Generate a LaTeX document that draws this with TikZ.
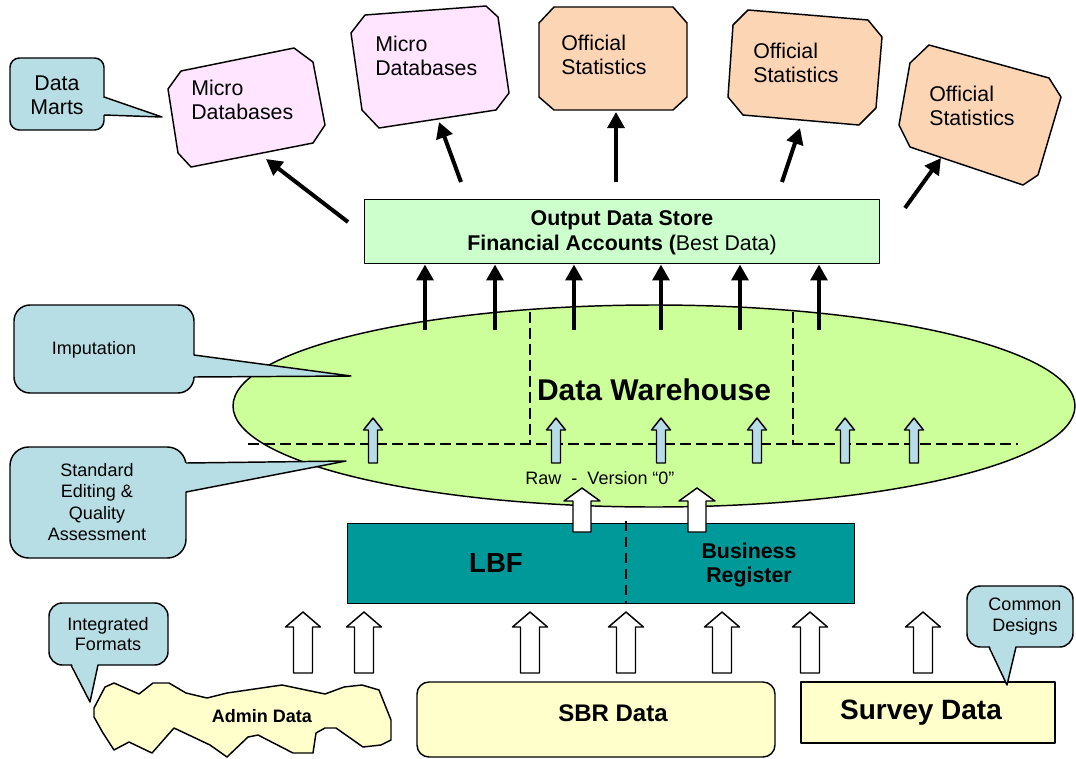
\documentclass[tikz,border=0pt]{standalone}
\usepackage{fontspec}
\setmainfont{Liberation Sans}
\usetikzlibrary{arrows.meta,shapes.geometric}
\definecolor{callb}{RGB}{183,222,228}
\definecolor{pinkb}{RGB}{255,229,255}
\definecolor{peach}{RGB}{252,213,181}
\definecolor{odsg}{RGB}{204,255,204}
\definecolor{dwg}{RGB}{204,255,153}
\definecolor{tealb}{RGB}{0,153,153}
\definecolor{lyel}{RGB}{255,255,204}
\definecolor{arrb}{RGB}{183,222,232}
% #1 style, #2 x, #3 tip y, #4 bottom y, #5 half shaft, #6 half head, #7 head height
\newcommand{\UpArr}[7]{\draw[#1] (#2-#5,#4) -- (#2-#5,#3+#7) -- (#2-#6,#3+#7) -- (#2,#3) -- (#2+#6,#3+#7) -- (#2+#5,#3+#7) -- (#2+#5,#4) -- cycle;}
\begin{document}
\begin{tikzpicture}[x=0.75pt,y=-0.75pt,line join=round,
  outl/.style={draw=black,line width=1.1pt},
  blk/.style={line width=3pt,-{Triangle[length=12pt,width=12.5pt]}},
  dsh/.style={line width=1.5pt,dash pattern=on 8pt off 4pt},
  txt/.style={inner sep=0pt,align=center},
  ltxt/.style={inner sep=0pt,align=left,anchor=west},
  fbig/.style={font=\fontsize{16pt}{18pt}\selectfont},
  fsmall/.style={font=\fontsize{13.5pt}{16pt}\selectfont},
  blockw/.style={outl,fill=white},
  blockb/.style={outl,fill=arrb}]
\useasboundingbox (0,0) rectangle (1076,758);

% ---------- top data marts ----------
\draw[outl,fill=pinkb] (168,89) -- (181,71) -- (294,48) -- (313,62) -- (325,125) -- (313,143) -- (191,167) -- (178,153) -- cycle;
\node[ltxt,fbig] (md1) at (191,100) {Micro\\Databases};
\draw[outl,fill=pinkb] (351,33) -- (365,15) -- (486,6) -- (498,17) -- (509,93) -- (496,110) -- (379,128) -- (362,110) -- cycle;
\node[ltxt,fbig] (md2) at (375,56) {Micro\\Databases};
\draw[outl,fill=peach] (539,23) -- (554,7) -- (673,7) -- (687,23) -- (687,97) -- (673,110) -- (554,110) -- (539,97) -- cycle;
\node[ltxt,fbig] (os1) at (561,55) {Official\\Statistics};
\draw[outl,fill=peach] (733,25) -- (748,10) -- (868,20) -- (882,37) -- (876,108) -- (859,125) -- (743,115) -- (728,97) -- cycle;
\node[ltxt,fbig] (os2) at (753,63) {Official\\Statistics};
\draw[outl,fill=peach] (910,63) -- (929,45) -- (1049,78) -- (1061,97) -- (1038,175) -- (1023,185) -- (910,147) -- (899,125) -- cycle;
\node[ltxt,fbig] (os3) at (929,106) {Official\\Statistics};

% Data Marts callout
\draw[outl,fill=callb,rounded corners=7pt] (10,58) rectangle (104,130);
\fill[callb] (101,97) -- (162,117) -- (101,115) -- cycle;
\draw[outl] (104,97) -- (162,117) -- (104,115);
\node[txt,font=\fontsize{16pt}{18pt}\selectfont] (dm) at (57,95) {Data\\Marts};

% ---------- output data store ----------
\node[outl,fill=odsg,minimum width=386.25pt,minimum height=48pt,inner sep=0pt,anchor=north west] (ods) at (364,199) {};
\node[txt,font=\fontsize{16pt}{18.75pt}\selectfont] (odstext) at (622,233) {\textbf{Output Data Store}\\\textbf{Financial Accounts (}Best Data)};

% arrows from store to marts
\coordinate (t1) at (348,222); \coordinate (h1) at (266,159);
\coordinate (t2) at (461,182); \coordinate (h2) at (439,122);
\coordinate (t3) at (616,182); \coordinate (h3) at (616,112);
\coordinate (t4) at (782,182); \coordinate (h4) at (800,128);
\coordinate (t5) at (905,208); \coordinate (h5) at (941,158);
\foreach \i in {1,...,5} {\draw[blk] (t\i) -- (h\i);}

% ---------- data warehouse ----------
\node[ellipse,outl,fill=dwg,minimum width=631.5pt,minimum height=151.5pt,inner sep=0pt] (dw) at (654,406) {};
\foreach \x [count=\i] in {425,495,574,661,740,819} {
  \coordinate (dwo\i) at (\x,330);
  \draw[blk] (dwo\i) -- (dwo\i |- ods.south);
}
\draw[dsh] (248,444) -- (1018,444);
\draw[dsh] (530,312) -- (530,444);
\draw[dsh] (793,312) -- (793,444);
\foreach \x in {373,556,661,757,845,914} {\UpArr{blockb}{\x}{418}{463}{4.5}{9.5}{12}}
\node[txt,font=\fontsize{22.5pt}{26pt}\selectfont\bfseries] (dwlabel) at (654,390) {Data Warehouse};
\node[txt,fsmall] (raw) at (600,478) {Raw\ \ -\ \ Version “0”};

% Imputation callout
\draw[outl,fill=callb,rounded corners=12pt] (14,305) rectangle (194,393);
\fill[callb] (191,355) -- (351,376) -- (191,377) -- cycle;
\draw[outl] (194,355) -- (351,376) -- (194,377);
\node[txt,fsmall] (imp) at (94,350) {Imputation};

% Standard editing callout
\draw[outl,fill=callb,rounded corners=14pt] (10,447) rectangle (186,558);
\fill[callb] (183,463) -- (346,461) -- (183,492) -- cycle;
\draw[outl] (186,463) -- (346,461) -- (186,492);
\node[txt,font=\fontsize{13.5pt}{16pt}\selectfont] (sea) at (97,502) {Standard\\Editing \&\\Quality\\Assessment};

% ---------- LBF ----------
\node[outl,fill=tealb,minimum width=380.25pt,minimum height=60pt,inner sep=0pt,anchor=north west] (lbf) at (347,523) {};
\draw[line width=1.5pt,dash pattern=on 7.5pt off 4.5pt] (626,521) -- (626,603);
\node[txt,font=\fontsize{20.7pt}{24pt}\selectfont\bfseries] (lbftext) at (496,563) {LBF};
\node[txt,font=\fontsize{16pt}{18pt}\selectfont\bfseries] (br) at (749,565) {Business\\Register};
\foreach \x in {582,697} {\UpArr{blockw}{\x}{488}{532}{9}{18}{13}}

% ---------- sources ----------
\foreach \x in {303,364,530,626,722,810,923} {\UpArr{blockw}{\x}{612}{673}{9.5}{17.5}{15}}

% Admin data
\draw[outl,fill=lyel] (94,708) -- (105,687) -- (114,683) -- (139,694) -- (153,683) -- (169,683) -- (186,693) -- (207,698) -- (227,693) -- (282,685) -- (325,694) -- (344,687) -- (362,685) -- (379,690) -- (391,720) -- (391,740) -- (381,745) -- (363,747) -- (336,728) -- (325,728) -- (316,733) -- (313,753) -- (293,753) -- (258,735) -- (248,737) -- (227,757) -- (210,745) -- (174,728) -- (152,753) -- (129,742) -- (114,750) -- (103,733) -- (94,717) -- cycle;
\node[txt,font=\fontsize{13.5pt}{16pt}\selectfont\bfseries] (admin) at (262,716) {Admin Data};

% Integrated formats callout
\draw[outl,fill=callb,rounded corners=10pt] (49,603) rectangle (168,665);
\fill[callb] (71,662) -- (90,702) -- (98,662) -- cycle;
\draw[outl] (71,665) -- (90,702) -- (98,665);
\node[txt,font=\fontsize{13.5pt}{15pt}\selectfont] (intf) at (108,634) {Integrated\\Formats};

% SBR data
\draw[outl,fill=lyel,rounded corners=9pt] (417,682) rectangle (775,757);
\node[txt,font=\fontsize{18pt}{20pt}\selectfont\bfseries] (sbr) at (613,713) {SBR Data};

% Survey data
\draw[outl,fill=lyel] (801,682) rectangle (1055,743);
\node[txt,font=\fontsize{21pt}{24pt}\selectfont\bfseries] (survey) at (921,713) {Survey Data};

% Common designs callout
\draw[outl,fill=callb,rounded corners=10pt] (967,586) rectangle (1073,647);
\fill[callb] (989,644) -- (1007,685) -- (1016,644) -- cycle;
\draw[outl] (989,647) -- (1007,685) -- (1016,647);
\node[txt,font=\fontsize{13.5pt}{15.75pt}\selectfont] (cd) at (1025,617) {Common\\Designs};
\end{tikzpicture}
\end{document}
